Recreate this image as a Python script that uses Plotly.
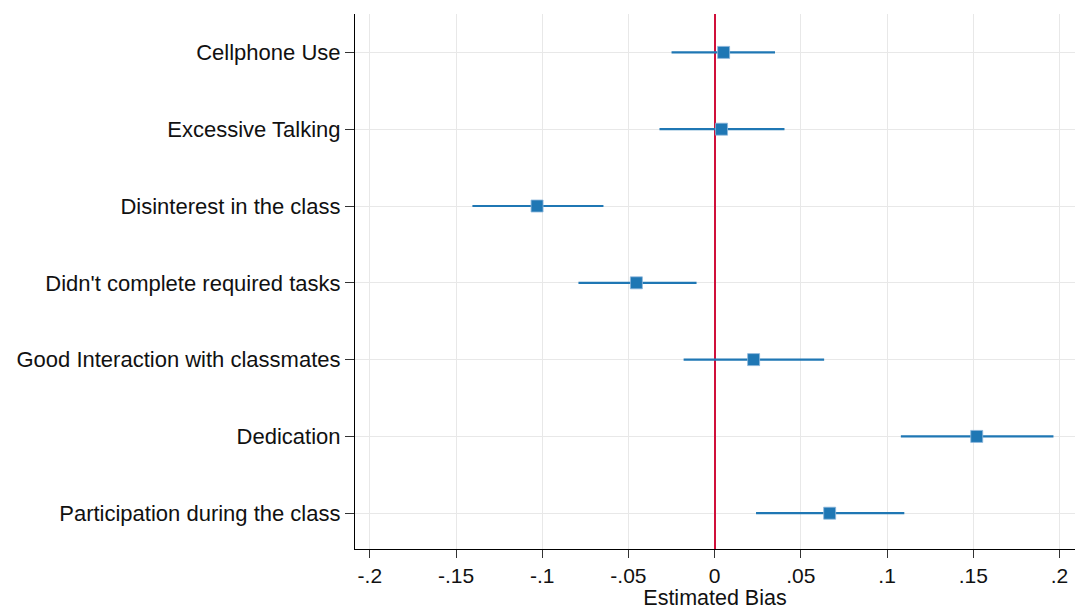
import plotly.graph_objects as go

categories = ["Cellphone Use", "Excessive Talking", "Disinterest in the class",
              "Didn't complete required tasks", "Good Interaction with classmates",
              "Dedication", "Participation during the class"]
estimate = [0.0052, 0.0040, -0.1030, -0.0454, 0.0226, 0.1520, 0.0667]
ci_low = [-0.0250, -0.0320, -0.1405, -0.0790, -0.0180, 0.1080, 0.0240]
ci_high = [0.0350, 0.0405, -0.0645, -0.0105, 0.0635, 0.1965, 0.1100]
x_tickvals = [-0.2, -0.15, -0.1, -0.05, 0, 0.05, 0.1, 0.15, 0.2]
x_ticktext = ["-.2", "-.15", "-.1", "-.05", "0", ".05", ".1", ".15", ".2"]

blue = "#1f77b4"
fig = go.Figure()
fig.add_trace(go.Scatter(
    x=estimate, y=categories, mode="markers",
    marker=dict(symbol="square", size=12, color=blue,
                line=dict(width=0.8, color="#8fb8dc")),
    error_x=dict(type="data", symmetric=False,
                 array=[h - e for h, e in zip(ci_high, estimate)],
                 arrayminus=[e - l for e, l in zip(estimate, ci_low)],
                 color=blue, thickness=2.2, width=0),
    showlegend=False,
))

font = "Liberation Sans, Arial, sans-serif"
fig.update_layout(
    width=1080, height=610,
    margin=dict(l=355, r=5, t=14, b=61),
    plot_bgcolor="white", paper_bgcolor="white",
    font=dict(family=font, size=22, color="#111111"),
    xaxis=dict(range=[-0.2086, 0.209], tickvals=x_tickvals, ticktext=x_ticktext,
               tickfont=dict(size=21),
               showgrid=True, gridcolor="#e8e8e8", gridwidth=1,
               zeroline=True, zerolinecolor="#d0103a", zerolinewidth=2,
               showline=True, linecolor="black", linewidth=1.2,
               ticks="outside", ticklen=8, tickcolor="#333333", automargin=False,
               title=dict(text="Estimated Bias", standoff=0,
                          font=dict(size=21.5, family=font))),
    yaxis=dict(categoryorder="array", categoryarray=categories,
               range=[6.466, -0.5], showgrid=True, gridcolor="#e8e8e8", gridwidth=1,
               zeroline=False, showline=True, linecolor="black", linewidth=1.2,
               ticks="outside", ticklen=9, tickcolor="#333333", automargin=False),
)
fig.write_html("out.html", config={"displayModeBar": False},
               post_script="document.body.style.margin='0';")
